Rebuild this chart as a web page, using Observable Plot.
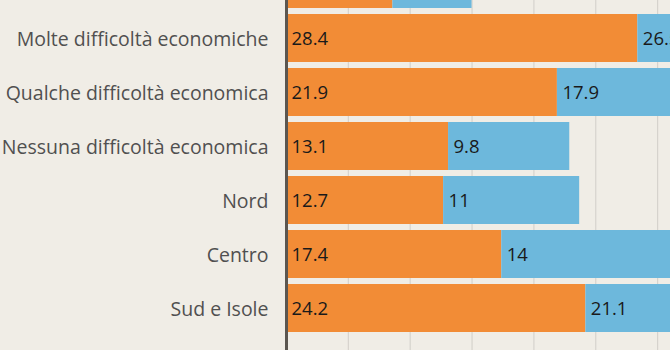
<!DOCTYPE html>
<html><head><meta charset="utf-8">
<script src="https://cdn.jsdelivr.net/npm/d3@7"></script>
<script src="https://cdn.jsdelivr.net/npm/@observablehq/plot@0.6"></script>
<style>
html,body{margin:0;padding:0;background:#f0ede6;}
#chart svg{display:block;}
</style>
</head><body><div id="chart"></div>
<script>
const categories = ["Totale", "Molte difficoltà economiche", "Qualche difficoltà economica", "Nessuna difficoltà economica", "Nord", "Centro", "Sud e Isole"];
const seriesA = [8.6, 28.4, 21.9, 13.1, 12.7, 17.4, 24.2];
const seriesB = [6.4, 26.5, 17.9, 9.8, 11, 14, 21.1];
const labelsB = ["6.4", "26.5", "17.9", "9.8", "11", "14", "21.1"];
const gridTicks = [5, 10, 15, 20, 25, 30, 35];

const rows = [];
categories.forEach((c, i) => {
  rows.push({cat: c, s: "A", x1: 0, x2: seriesA[i], label: String(seriesA[i])});
  rows.push({cat: c, s: "B", x1: seriesA[i], x2: seriesA[i] + seriesB[i], label: labelsB[i]});
});
const visible = rows.filter(d => d.cat !== categories[0]);

const unit = 12.37;
const chart = Plot.plot({
  width: 670, height: 350,
  marginLeft: 286, marginRight: 0, marginTop: 0, marginBottom: 0,
  style: {background: "#f0ede6", fontFamily: "'Open Sans', sans-serif", overflow: "hidden"},
  x: {domain: [0, 40], range: [286, 286 + 40 * unit], axis: null},
  y: {domain: categories, range: [-43, 335], paddingInner: 0.11, paddingOuter: 0.055, align: 0.5, axis: null},
  color: {domain: ["A", "B"], range: ["#f28c36", "#6db8dc"]},
  marks: [
    Plot.ruleX(gridTicks, {stroke: "#d6d3cd", strokeWidth: 1.2}),
    Plot.barX(rows, {y: "cat", x1: "x1", x2: "x2", fill: "s"}),
    Plot.text(visible, {y: "cat", x: "x1", text: "label", dx: 5, dy: 1, textAnchor: "start", fill: "#1a1a1a", fontSize: 18.5}),
    Plot.axisY(categories.slice(1), {tickSize: 0, tickPadding: 18, dy: 1.5, fontSize: 19.5, color: "#505050", label: null}),
    Plot.ruleX([0], {stroke: "#5b5650", strokeWidth: 3})
  ]
});
document.getElementById("chart").appendChild(chart);
</script>
</body></html>
